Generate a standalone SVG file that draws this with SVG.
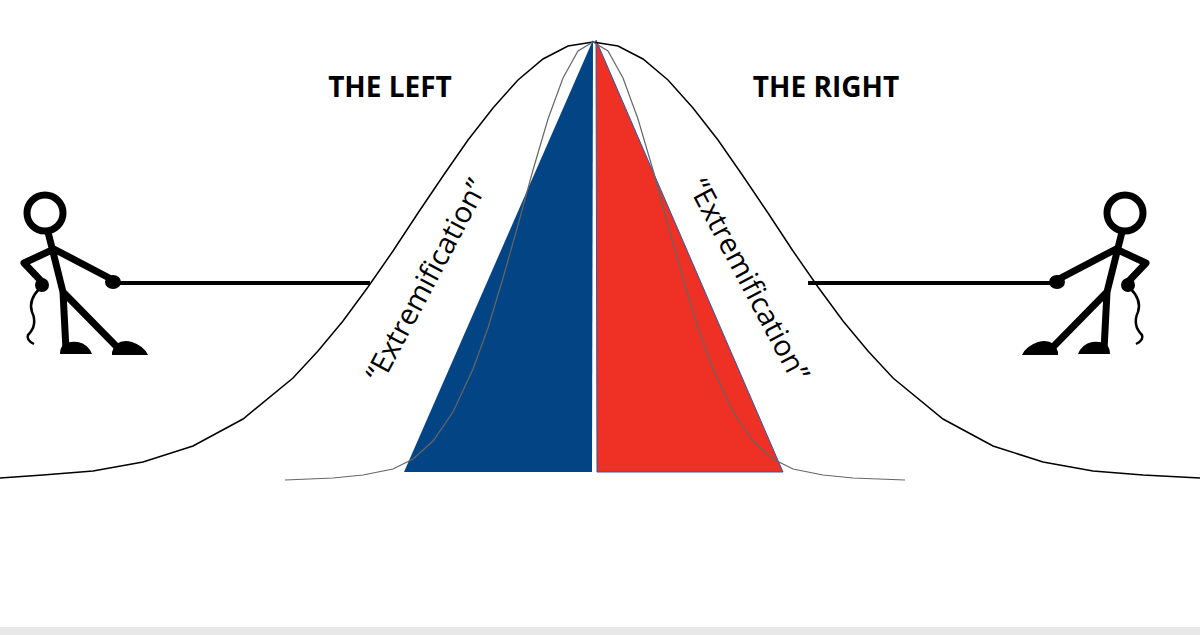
<svg xmlns="http://www.w3.org/2000/svg" width="1200" height="635" viewBox="0 0 1200 635">
<defs><style>
.st{fill:none;stroke:#000;stroke-width:7;stroke-linecap:round;stroke-linejoin:round}
.lbl{font-family:"Open Sans","Liberation Sans",sans-serif;font-weight:bold;font-size:28px;fill:#000}
.ex{font-family:"Open Sans","Liberation Sans",sans-serif;font-size:29px;fill:#000}
</style>
<g id="fig">
<circle cx="45" cy="213" r="18" class="st" stroke-width="6"/>
<path class="st" d="M48 232 L63 292 L66 350 M63 292 L118 348 M52 248 L113 280 M52 250 L24 263 L43 283"/>
<path d="M60 354 Q60 340 78 342 Q88 344 92 354 Z M112 352 Q116 338 132 342 Q144 346 148 355 L112 355 Z" fill="#000"/>
<ellipse cx="113" cy="282" rx="8" ry="7"/>
<ellipse cx="42" cy="285" rx="7" ry="7"/>
<path d="M40 288 Q28 300 32 312 Q38 325 28 335 Q26 340 34 344" fill="none" stroke="#000" stroke-width="2.5"/>
</g></defs>
<rect width="1200" height="635" fill="#fff"/>
<rect x="0" y="627" width="1200" height="8" fill="#e8e8e8"/>
<g id="triangles">
<polygon points="593,40 592,472 404,472" fill="#034584"/>
<polygon points="596,40 783,472 597,472" fill="#ee3124" stroke="#2a5aa8" stroke-width="1"/>
</g>
<g id="curves" fill="none">
<polyline stroke="#000" stroke-width="1.5" points="0,478 43,475 93,471 143,462 193,446 243,419 293,378 318,351 343,321 368,287 393,251 418,213 443,176 468,140 493,108 518,80 543,59 568,46 593,42 618,46 643,59 668,80 693,108 718,140 743,176 768,213 793,251 818,287 843,321 868,351 893,378 943,419 993,446 1043,462 1093,471 1143,475 1200,478"/>
<polyline stroke="#666" stroke-width="1.2" points="285,480 333,478 363,475 393,469 413,459 433,441 453,412 473,369 488,328 503,278 518,225 533,170 548,119 563,78 578,51 593,42 608,51 623,78 638,119 653,170 668,225 683,278 698,328 713,369 733,412 753,441 773,459 793,469 823,475 853,478 905,480"/>
</g>
<g id="left-figure"><use href="#fig"/></g>
<g id="right-figure"><use href="#fig" transform="translate(1170,0) scale(-1,1)"/></g>
<g id="ropes" stroke="#000" stroke-width="4">
<line x1="118" y1="283" x2="370" y2="283"/>
<line x1="808" y1="283" x2="1052" y2="283"/>
</g>
<g id="labels">
<text class="lbl" x="390" y="97" text-anchor="middle">THE LEFT</text>
<text class="lbl" x="826" y="97" text-anchor="middle">THE RIGHT</text>
<text class="ex" text-anchor="middle" transform="translate(435,285) rotate(-62)">“Extremification”</text>
<text class="ex" text-anchor="middle" transform="translate(740,285) rotate(62)">“Extremification”</text>
</g>
</svg>
